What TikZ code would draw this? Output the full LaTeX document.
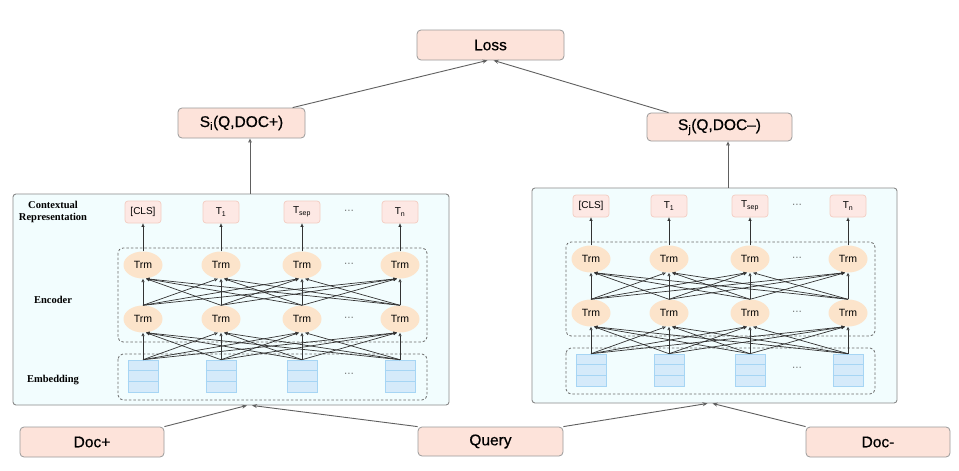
\documentclass[tikz,border=0pt]{standalone}
\usepackage{fontspec}
\setmainfont{Liberation Sans}
\newfontfamily\serifb{Liberation Serif}
\newfontfamily\boxfont[FakeBold=0.5]{Liberation Sans}
\usetikzlibrary{arrows.meta,calc,shapes.geometric}

\definecolor{boxfill}{HTML}{FDE3DA}
\definecolor{boxline}{HTML}{9A9A9A}
\definecolor{tokfill}{HTML}{FDE8E4}
\definecolor{tokline}{HTML}{F3CDC2}
\definecolor{trmfill}{HTML}{FCE4CB}
\definecolor{embfill}{HTML}{D5EAFA}
\definecolor{embline}{HTML}{A6D5F4}
\definecolor{netcol}{HTML}{333333}
\definecolor{dashcol}{HTML}{6A6A6A}
\definecolor{panelfill}{HTML}{F2FDFE}
\definecolor{panelline}{HTML}{8A8A8A}
\definecolor{conncol}{HTML}{606060}

\tikzset{
 bigbox/.style={draw=boxline, fill=boxfill, rounded corners=4pt, line width=0.8pt, inner sep=0pt, font=\boxfont\fontsize{15.5}{18}\selectfont},
 tok/.style={draw=tokline, fill=tokfill, rounded corners=3pt, minimum width=36pt, minimum height=22pt, inner sep=0pt, font=\fontsize{10}{12}\selectfont, line width=0.7pt},
 trm/.style={ellipse, fill=trmfill, minimum width=39pt, minimum height=27pt, inner sep=0pt, font=\fontsize{10.5}{12}\selectfont},
 emb/.style={draw=embline, fill=embfill, minimum width=30pt, minimum height=32pt, inner sep=0pt, line width=0.6pt},
 net/.style={draw=netcol, line width=0.7pt, -{Triangle[open, length=3.5pt, width=3pt]}},
 dbox/.style={draw=dashcol, dash pattern=on 2.5pt off 2pt, rounded corners=5pt, line width=0.8pt},
 panel/.style={draw=panelline, fill=panelfill, rounded corners=3pt, line width=0.9pt, inner sep=0pt},
 conn/.style={draw=conncol, line width=0.9pt, -{Stealth[length=5pt,width=4pt]}},
 upconn/.style={draw=conncol, line width=0.9pt, -{Triangle[open,length=4pt,width=3.5pt]}},
 lab/.style={font=\serifb\bfseries\fontsize{10.5}{12}\selectfont, align=center},
 dots/.style={font=\fontsize{10}{12}\selectfont, text=black!70},
}

\newcommand\mypanel[3]{%
 \begin{scope}[shift={(#2,#3)}]
  \draw[dbox] (118,248) rectangle (427,342);
  \draw[dbox] (118,354) rectangle (427,400);
  \foreach \c/\x/\lab in {1/143/{[CLS]},2/221/{T\textsubscript{1}},3/302/{T\textsubscript{sep}},4/400/{T\textsubscript{n}}} {
    \node[tok] (#1t\c) at (\x,212) {\lab};
    \node[trm] (#1u\c) at (\x,265) {Trm};
    \node[trm] (#1l\c) at (\x,319) {Trm};
    \node[emb] (#1e\c) at (\x,376) {};
    \draw[embline, line width=0.6pt] ($(#1e\c.north west)!1/3!(#1e\c.south west)$) -- ($(#1e\c.north east)!1/3!(#1e\c.south east)$);
    \draw[embline, line width=0.6pt] ($(#1e\c.north west)!2/3!(#1e\c.south west)$) -- ($(#1e\c.north east)!2/3!(#1e\c.south east)$);
  }
  \node[dots] (#1d1) at (349,212) {···};
  \node[dots] (#1d2) at (349,265) {···};
  \node[dots] (#1d3) at (349,319) {···};
  \node[dots] (#1d4) at (349,375) {···};
  \foreach \i in {1,...,4} {
    \draw[net] (#1u\i.north) -- (#1t\i.south);
    \foreach \j in {1,...,4} {
      \pgfmathsetmacro\dx{3*sign(\i-\j)}
      \draw[net] (#1e\i.north) -- ([xshift=\dx pt]#1l\j.south);
      \draw[net] (#1l\i.north) -- ([xshift=\dx pt]#1u\j.south);
    }
  }
 \end{scope}
}

\begin{document}
\begin{tikzpicture}[x=1pt,y=-1pt]
\fill[white] (0,0) rectangle (959,471);
\useasboundingbox (0,0) rectangle (959,471);

% panels
\node[panel, minimum width=436pt, minimum height=211pt] (LP) at (231,299.5) {};
\node[panel, minimum width=365pt, minimum height=215pt] (RP) at (714.5,295.5) {};

\node[lab] (clab) at (53,212) {Contextual\\Representation};
\node[lab] (elab) at (53,300) {Encoder};
\node[lab] (blab) at (53,380) {Embedding};

\mypanel{L}{0}{0}
\mypanel{R}{448}{-6}

% top boxes
\node[bigbox, minimum width=147pt, minimum height=30pt] (Loss) at (490.5,45) {Loss};
\node[bigbox, minimum width=127pt, minimum height=30pt] (Si) at (241.5,123) {S\textsubscript{i}(Q,DOC+)};
\node[bigbox, minimum width=145pt, minimum height=28pt] (Sj) at (719.5,127) {S\textsubscript{j}(Q,DOC\textendash)};

% bottom boxes
\node[bigbox, minimum width=144pt, minimum height=30pt] (Dp) at (92,442) {Doc+};
\node[bigbox, minimum width=145pt, minimum height=29pt] (Q) at (490.5,441.5) {Query};
\node[bigbox, minimum width=144pt, minimum height=30pt] (Dm) at (878,442) {Doc-};

% connectors
\draw[conn] ($(Si.north west)!0.9!(Si.north east)$) -- ([xshift=-3pt]Loss.south);
\draw[conn] ($(Sj.north west)!0.15!(Sj.north east)$) -- ([xshift=3pt]Loss.south);

\coordinate (lpa) at (250,194);
\coordinate (rpa) at (728,188);
\draw[upconn] (lpa) -- (lpa |- Si.south);
\draw[upconn] (rpa) -- (rpa |- Sj.south);

\draw[conn] (Dp.north east) -- ([xshift=16pt]LP.south);
\draw[conn] (Q.north west) -- ([xshift=21pt]LP.south);
\draw[conn] (Q.north east) -- ([xshift=-7pt]RP.south);
\draw[conn] (Dm.north west) -- ([xshift=-2pt]RP.south);
\end{tikzpicture}
\end{document}
